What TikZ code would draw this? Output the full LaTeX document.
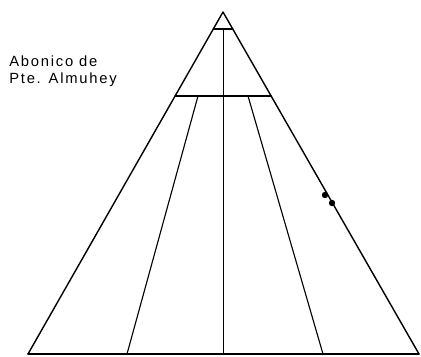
\documentclass[tikz,border=0pt]{standalone}
\usepackage{fontspec}
\setsansfont{Liberation Sans}
\usetikzlibrary{calc}

\begin{document}
\begin{tikzpicture}[x=0.025cm,y=-0.025cm,line cap=round,line join=round]
  \useasboundingbox (0,0) rectangle (421,356);
  \coordinate (T) at (223,12);\coordinate (L) at (28,354);\coordinate (R) at (419,354);
  \draw[line width=1pt] (L)--(T)--(R);
  \draw[line width=0.9pt] (L)--(R);
  % upper cross lines
  \draw[line width=0.9pt] ($(T)!.0497!(L)$)--($(T)!.0497!(R)$);
  \draw[line width=0.9pt] ($(T)!.2456!(L)$)--($(T)!.2456!(R)$);
  % fan lines
  \draw[line width=0.7pt] (223.3,29)--(223.3,354);
  \draw[line width=0.8pt] (198,96)--(127,354);
  \draw[line width=0.8pt] (248,96)--(323,354);
  \fill (325,195) circle (0.08cm);\fill (332,203) circle (0.08cm);
  \node[anchor=base west,inner sep=0pt,font=\sffamily\fontsize{10.5}{12}\selectfont\addfontfeature{LetterSpace=12}] (lblA) at (9,66) {Abonico de};
  \node[anchor=base west,inner sep=0pt,font=\sffamily\fontsize{10.5}{12}\selectfont\addfontfeature{LetterSpace=12}] (lblB) at (9,83) {Pte. Almuhey};
\end{tikzpicture}
\end{document}
